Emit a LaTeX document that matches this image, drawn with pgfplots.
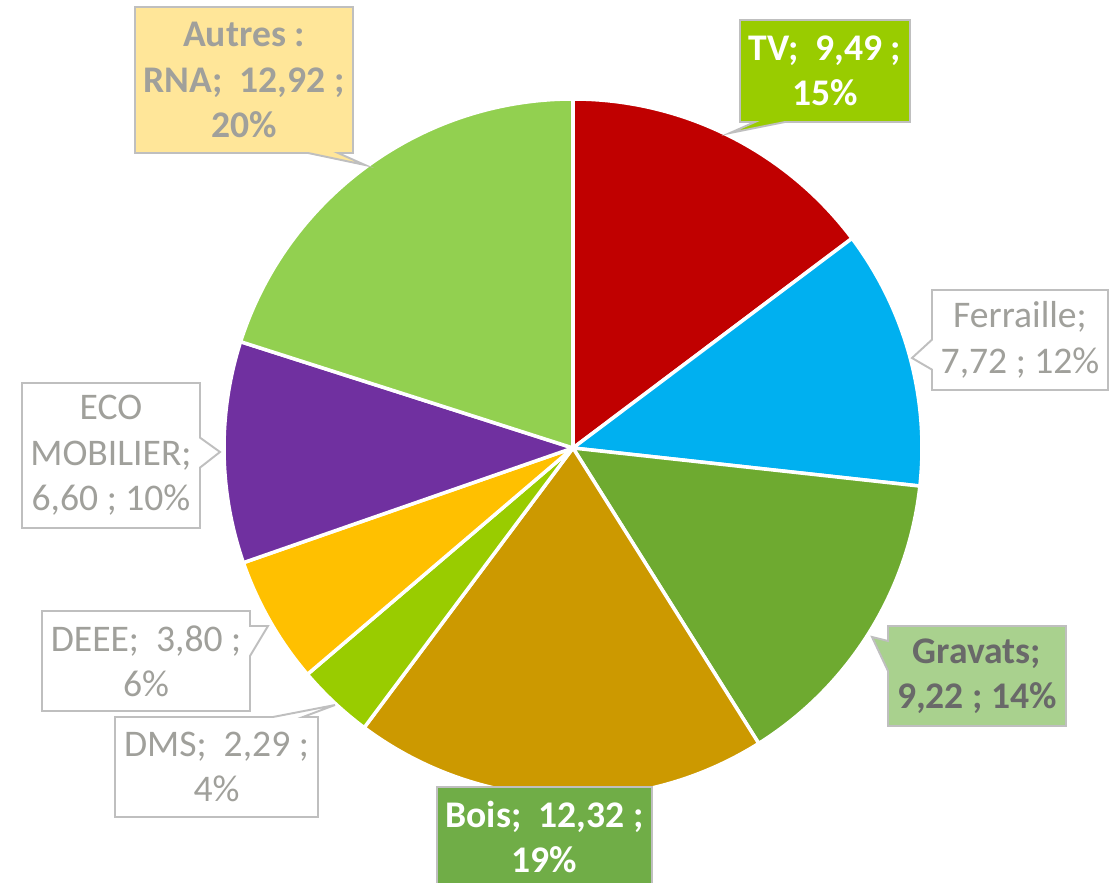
\documentclass[border=0pt]{standalone}
\usepackage{pgfplots}
\usepackage{pgfplotstable}
\pgfplotsset{compat=1.18}
\usetikzlibrary{shapes.callouts}
\usepackage{fontspec}
\setmainfont{Carlito}

\definecolor{cTV}{RGB}{192,0,0}
\definecolor{cFer}{RGB}{0,176,240}
\definecolor{cGra}{RGB}{110,170,48}
\definecolor{cBois}{RGB}{204,153,0}
\definecolor{cDMS}{RGB}{153,204,0}
\definecolor{cDEEE}{RGB}{255,192,0}
\definecolor{cEco}{RGB}{112,48,160}
\definecolor{cAut}{RGB}{146,208,80}
\definecolor{boxborder}{RGB}{191,191,191}
\definecolor{txtgray}{RGB}{160,160,155}
\definecolor{txtdark}{RGB}{105,105,105}
\definecolor{fAut}{RGB}{255,230,153}
\definecolor{fTV}{RGB}{153,204,0}
\definecolor{fGra}{RGB}{169,209,142}
\definecolor{fBois}{RGB}{112,173,71}

\pgfplotstableread{
label value
TV 9.49
Ferraille 7.72
Gravats 9.22
Bois 12.32
DMS 2.29
DEEE 3.80
ECOMOBILIER 6.60
AutresRNA 12.92
}\piedata

\newcommand\slice[3]{\fill[#3, draw=white, line width=1pt, line join=round] (axis cs:573,435) -- ++(#1:3.49cm) arc[start angle=#1, end angle=#2, radius=3.49cm] -- cycle;}
\newcommand\labfont{\fontsize{10.7pt}{12.9pt}\selectfont}

\begin{document}
\begin{tikzpicture}[
  lab/.style={rectangle callout, draw=boxborder, line width=0.55pt, inner sep=0pt, align=center,
    font=\labfont, callout pointer width=0.3cm},
  box/.style={rectangle, draw=boxborder, line width=0.55pt, inner sep=0pt, align=center,
    font=\labfont}]
\pgfplotstablegetelem{0}{value}\of\piedata \let\vA\pgfplotsretval
\pgfplotstablegetelem{1}{value}\of\piedata \let\vB\pgfplotsretval
\pgfplotstablegetelem{2}{value}\of\piedata \let\vC\pgfplotsretval
\pgfplotstablegetelem{3}{value}\of\piedata \let\vD\pgfplotsretval
\pgfplotstablegetelem{4}{value}\of\piedata \let\vE\pgfplotsretval
\pgfplotstablegetelem{5}{value}\of\piedata \let\vF\pgfplotsretval
\pgfplotstablegetelem{6}{value}\of\piedata \let\vG\pgfplotsretval
\pgfplotstablegetelem{7}{value}\of\piedata \let\vH\pgfplotsretval
\pgfmathsetmacro\tot{\vA+\vB+\vC+\vD+\vE+\vF+\vG+\vH}
\pgfmathsetmacro\aA{90}
\pgfmathsetmacro\aB{\aA-360*\vA/\tot}
\pgfmathsetmacro\aC{\aB-360*\vB/\tot}
\pgfmathsetmacro\aD{\aC-360*\vC/\tot}
\pgfmathsetmacro\aE{\aD-360*\vD/\tot}
\pgfmathsetmacro\aF{\aE-360*\vE/\tot}
\pgfmathsetmacro\aG{\aF-360*\vF/\tot}
\pgfmathsetmacro\aH{\aG-360*\vG/\tot}
\pgfmathsetmacro\aI{\aH-360*\vH/\tot}
\begin{axis}[scale only axis, width=11.19cm, height=8.83cm,
  xmin=0, xmax=1119, ymin=0, ymax=883, hide axis, clip=false]
\slice{\aA}{\aB}{cTV}
\slice{\aB}{\aC}{cFer}
\slice{\aC}{\aD}{cGra}
\slice{\aD}{\aE}{cBois}
\slice{\aE}{\aF}{cDMS}
\slice{\aF}{\aG}{cDEEE}
\slice{\aG}{\aH}{cEco}
\slice{\aH}{\aI}{cAut}
% labels
\node[lab, fill=fAut, text=txtgray, font=\labfont\bfseries,
  minimum width=2.18cm, minimum height=1.46cm, callout absolute pointer={(axis cs:365,718)}]
  at (axis cs:244,803) {Autres :\\RNA;\ \ 12,92 ;\\20\%};
\node[lab, fill=fTV, text=white, font=\labfont\bfseries,
  minimum width=1.70cm, minimum height=1.02cm, callout absolute pointer={(axis cs:730,750)}]
  at (axis cs:825,812) {TV;\ \ 9,49 ;\\15\%};
\node[lab, fill=white, text=txtgray,
  minimum width=1.76cm, minimum height=1.00cm, callout absolute pointer={(axis cs:912,525)}]
  at (axis cs:1020,543) {Ferraille;\\7,72 ; 12\%};
\node[lab, fill=fGra, text=txtdark, font=\labfont\bfseries,
  minimum width=1.78cm, minimum height=1.00cm, callout absolute pointer={(axis cs:872,246)}]
  at (axis cs:977,207) {Gravats;\\9,22 ; 14\%};
\node[box, fill=fBois, text=white, font=\labfont\bfseries,
  minimum width=2.15cm, minimum height=1.00cm]
  at (axis cs:544.5,46) {Bois;\ \ 12,32 ;\\19\%};
\node[lab, fill=white, text=txtgray,
  minimum width=2.03cm, minimum height=1.00cm, callout absolute pointer={(axis cs:335,178)}]
  at (axis cs:216.5,116) {DMS;\ \ 2,29 ;\\4\%};
\node[lab, fill=white, text=txtgray,
  minimum width=2.08cm, minimum height=1.00cm, callout absolute pointer={(axis cs:268,257)}]
  at (axis cs:146,222) {DEEE;\ \ 3,80 ;\\6\%};
\node[lab, fill=white, text=txtgray,
  minimum width=1.78cm, minimum height=1.45cm, callout absolute pointer={(axis cs:220,431)}]
  at (axis cs:111,427.5) {ECO\\MOBILIER;\\6,60 ; 10\%};
\end{axis}
\pgfresetboundingbox
\path (0,0) rectangle (11.19cm,8.83cm);
\end{tikzpicture}
\end{document}
